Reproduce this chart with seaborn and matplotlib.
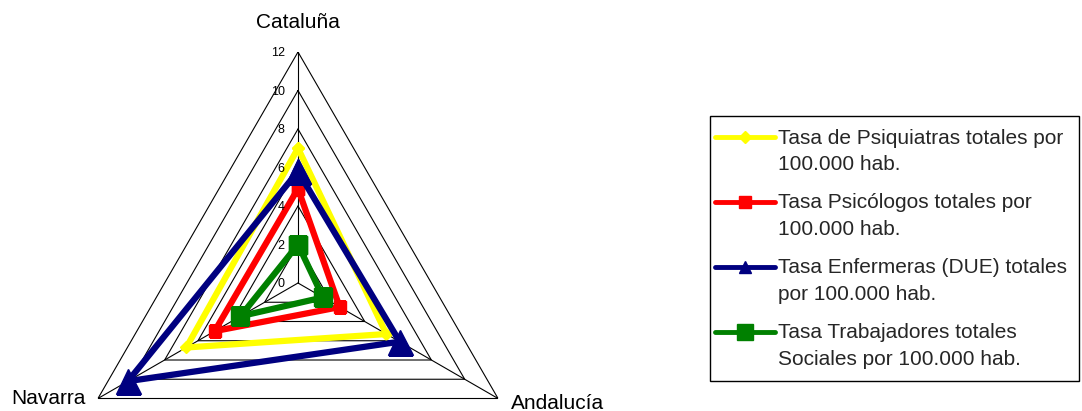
import numpy as np
import pandas as pd
import matplotlib
matplotlib.use("Agg")
import matplotlib.pyplot as plt
import matplotlib.transforms as mtransforms
from matplotlib.lines import Line2D
from matplotlib.legend_handler import HandlerLine2D
import seaborn as sns

# Regions on the radar axes (clockwise from the top)
regiones = ["Cataluña", "Andalucía", "Navarra"]

# Rates per 100.000 inhabitants, one list per professional group
psiquiatras = [7.0, 5.3, 6.7]
psicologos = [4.9, 2.5, 5.0]
enfermeras = [5.8, 6.1, 10.2]
trabajadores = [2.0, 1.5, 3.45]

series_labels = [
    "Tasa de Psiquiatras totales por\n100.000 hab.",
    "Tasa Psicólogos totales por\n100.000 hab.",
    "Tasa Enfermeras (DUE) totales\npor 100.000 hab.",
    "Tasa Trabajadores totales\nSociales por 100.000 hab.",
]

radial_ticks = [0, 2, 4, 6, 8, 10, 12]

sns.set_theme(style="white")
plt.rcParams["font.family"] = ["Liberation Sans", "DejaVu Sans"]

W, H = 1082, 411
fig = plt.figure(figsize=(W / 100, H / 100), dpi=100)

# Radar centre and outer radius in pixels
cx, cy, R = 298, 283, 231
ax = fig.add_axes([(cx - R) / W, (H - cy - R) / H, 2 * R / W, 2 * R / H],
                  projection="polar")
ax.set_theta_zero_location("N")
ax.set_theta_direction(-1)
ax.patch.set_alpha(0)

n = len(regiones)
angles = np.linspace(0, 2 * np.pi, n, endpoint=False)
angles_closed = np.append(angles, angles[0] + 2 * np.pi)

# Triangular gridlines and spokes
for r in radial_ticks[1:]:
    ax.plot(angles_closed, [r] * (n + 1), color="black", lw=0.8, zorder=1)
for a in angles:
    ax.plot([a, a], [0, radial_ticks[-1]], color="black", lw=0.8, zorder=1)

styles = [
    dict(color="#FFFF00", marker="D", markersize=6),
    dict(color="#FF0000", marker="s", markersize=9),
    dict(color="#000080", marker="^", markersize=18),
    dict(color="#008000", marker="s", markersize=13.5),
]
values = [psiquiatras, psicologos, enfermeras, trabajadores]

for vals, st, lab in zip(values, styles, series_labels):
    df = pd.DataFrame({"theta": angles_closed,
                       "valor": list(vals) + [vals[0]]})
    sns.lineplot(data=df, x="theta", y="valor", ax=ax, sort=False,
                 estimator=None, color=st["color"], marker=st["marker"],
                 markersize=st["markersize"], markeredgecolor=st["color"],
                 markeredgewidth=1, linewidth=4.5, zorder=3,
                 solid_joinstyle="miter", legend=False)

ax.set_xlabel("")
ax.set_ylabel("")
ax.set_ylim(0, radial_ticks[-1])
ax.set_xticks([])
ax.set_yticks([])
ax.grid(False)
ax.spines["polar"].set_visible(False)

# Radial value labels along the top axis
for r in radial_ticks:
    ax.annotate(str(r), xy=(0, r), xytext=(-9.5, -1), textcoords="offset points",
                ha="right", va="center", fontsize=9, color="black",
                annotation_clip=False)

# Region names at the outer vertices
offsets = [((0, 21.5), "center"), ((9, -3.5), "left"), ((-9, 0), "right")]
for a, name, (off, ha) in zip(angles, regiones, offsets):
    ax.annotate(name, xy=(a, radial_ticks[-1]), xytext=off,
                textcoords="offset points", ha=ha, va="center",
                fontsize=15, color="black", annotation_clip=False)


class FirstLineHandler(HandlerLine2D):
    """Legend key drawn beside the first line of a two-line label,
    slightly wider than its slot so it reaches toward the frame."""

    def __init__(self, shift, extend_left, key_width, **kw):
        super().__init__(**kw)
        self.shift = shift
        self.extend_left = extend_left
        self.key_width = key_width

    def create_artists(self, legend, orig_handle, xdescent, ydescent,
                       width, height, fontsize, trans):
        arts = super().create_artists(legend, orig_handle,
                                      xdescent + self.extend_left, ydescent,
                                      self.key_width, height, fontsize, trans)
        t = mtransforms.Affine2D().translate(0, self.shift) + trans
        for a in arts:
            a.set_transform(t)
        return arts


leg_sizes = [6, 9, 9, 12]
handles = [Line2D([], [], color=st["color"], marker=st["marker"],
                  markersize=ms, markeredgecolor=st["color"], lw=3.5)
           for st, ms in zip(styles, leg_sizes)]

leg = fig.legend(handles, series_labels, loc="upper left",
                 bbox_to_anchor=(710 / W, 1 - 116 / H),
                 bbox_transform=fig.transFigure, borderaxespad=0,
                 fontsize=15, handlelength=2.5, handletextpad=0.15,
                 labelspacing=0.95, borderpad=0.6, frameon=True,
                 fancybox=False, shadow=False, framealpha=1,
                 handler_map={Line2D: FirstLineHandler(shift=10,
                                                       extend_left=5.5,
                                                       key_width=43)})
leg.get_frame().set_edgecolor("black")
leg.get_frame().set_linewidth(1)
for t in leg.get_texts():
    t.set_linespacing(1.48)

fig.savefig("out.png", dpi=100)
